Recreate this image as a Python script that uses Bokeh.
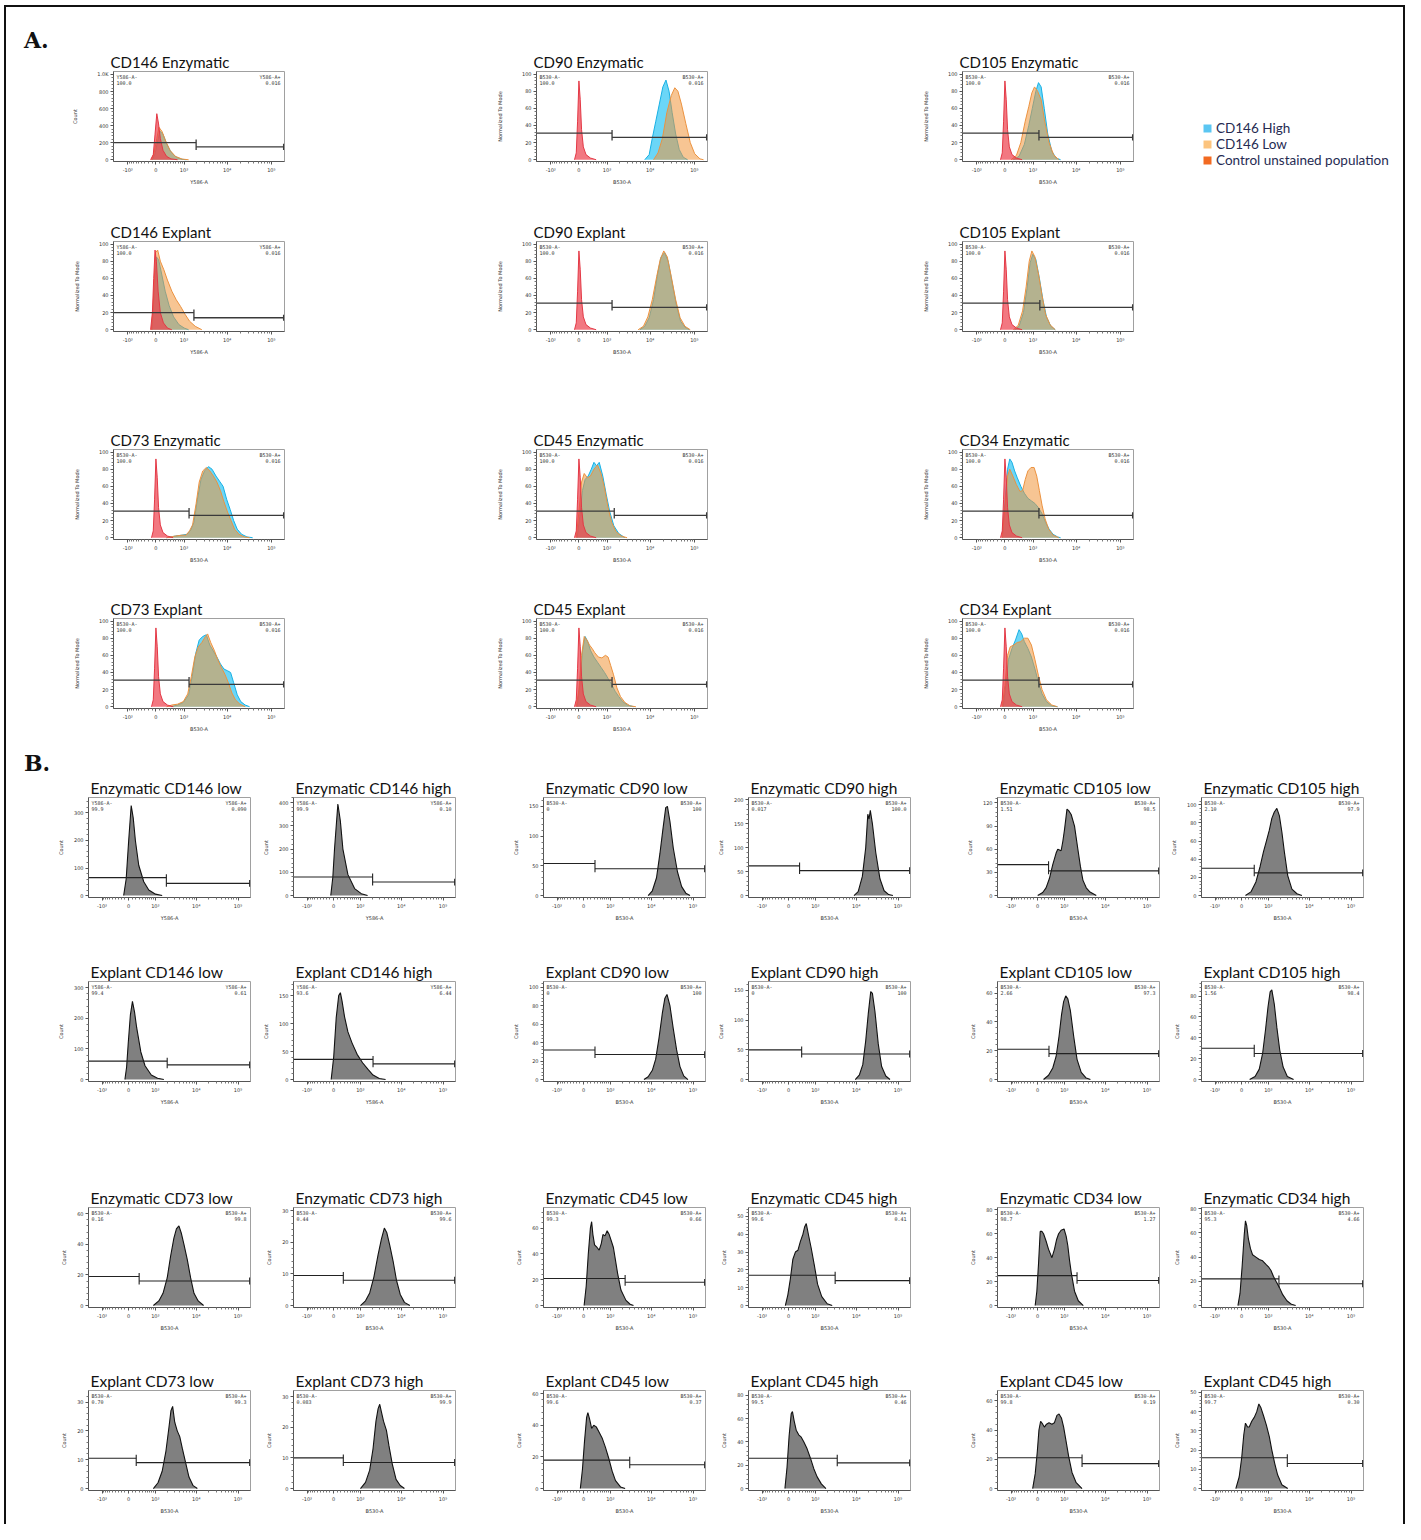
import math
from bokeh.plotting import figure
from bokeh.models import FixedTicker, Label, Spacer, Div, Legend, LegendItem, Range1d
from bokeh.layouts import row, column
from bokeh.embed import file_html
from bokeh.resources import INLINE

# ------------------------------------------------------------------ data
# x values are biexponential display units (0 -> 2.36, 10^3 -> 3, 10^4 -> 4, 10^5 -> 5)

# ---- panel A : overlays (High = cyan, Low = orange, Control = red)
A_CD146_ENZ_CTRL = [(2.24,0),(2.30,60),(2.34,300),(2.38,540),(2.42,420),(2.46,250),(2.52,110),(2.60,40),(2.70,10),(2.85,0)]
A_CD146_ENZ_LOW = [(2.26,0),(2.32,80),(2.38,250),(2.43,380),(2.50,330),(2.58,220),(2.68,110),(2.80,40),(2.95,8),(3.10,0)]
A_CD146_ENZ_HIGH = [(2.28,0),(2.34,70),(2.40,220),(2.45,335),(2.52,300),(2.60,190),(2.70,90),(2.82,30),(2.95,5),(3.05,0)]

A_CTRL_B530 = [(2.26,0),(2.30,8),(2.33,45),(2.36,92),(2.39,70),(2.42,35),(2.46,15),(2.52,6),(2.62,2),(2.75,0)]
A_CTRL_CD146_EXP = [(2.24,0),(2.28,20),(2.31,60),(2.34,93),(2.37,80),(2.41,45),(2.46,20),(2.53,8),(2.62,2),(2.72,0)]

A_CD90_ENZ_HIGH = [(3.85,0),(3.95,6),(4.02,25),(4.10,45),(4.18,65),(4.26,85),(4.33,93),(4.40,80),(4.47,55),(4.55,30),(4.63,12),(4.72,3),(4.82,0)]
A_CD90_ENZ_LOW = [(4.05,0),(4.15,8),(4.25,25),(4.35,55),(4.45,75),(4.53,84),(4.60,80),(4.68,65),(4.78,42),(4.88,20),(4.98,7),(5.10,1),(5.18,0)]
A_CD105_ENZ_HIGH = [(2.55,0),(2.68,4),(2.80,18),(2.90,40),(2.98,60),(3.06,80),(3.12,90),(3.18,85),(3.25,60),(3.33,30),(3.42,10),(3.52,2),(3.62,0)]
A_CD105_ENZ_LOW = [(2.50,0),(2.62,5),(2.72,20),(2.82,45),(2.90,62),(2.97,78),(3.03,85),(3.10,80),(3.18,70),(3.26,45),(3.36,20),(3.46,6),(3.58,0)]
A_CD146_EXP_HIGH = [(2.27,0),(2.32,40),(2.37,85),(2.42,82),(2.49,65),(2.57,45),(2.66,28),(2.76,15),(2.88,6),(3.00,2),(3.10,0)]
A_CD146_EXP_LOW = [(2.26,0),(2.30,30),(2.35,90),(2.40,93),(2.46,80),(2.54,70),(2.62,58),(2.72,45),(2.82,35),(2.92,27),(3.02,18),(3.12,10),(3.25,4),(3.40,0)]
A_CD90_EXP_HIGH = [(3.74,0),(3.85,4),(3.95,14),(4.05,35),(4.14,65),(4.22,85),(4.30,90),(4.38,80),(4.47,55),(4.56,30),(4.66,10),(4.76,3),(4.86,0)]
A_CD90_EXP_LOW = [(3.70,0),(3.82,4),(3.92,15),(4.02,35),(4.12,62),(4.20,82),(4.28,92),(4.36,85),(4.45,62),(4.55,35),(4.65,14),(4.76,4),(4.88,0)]
A_CD105_EXP_HIGH = [(2.58,0),(2.68,4),(2.78,20),(2.86,48),(2.93,78),(2.99,88),(3.06,82),(3.14,60),(3.22,35),(3.30,15),(3.40,4),(3.50,0)]
A_CD105_EXP_LOW = [(2.55,0),(2.66,5),(2.76,22),(2.84,50),(2.91,80),(2.97,92),(3.04,85),(3.12,65),(3.20,40),(3.28,18),(3.38,6),(3.50,0)]
A_CD73_ENZ_HIGH = [(2.60,0),(2.80,2),(2.95,3),(3.06,4),(3.14,8),(3.22,18),(3.30,45),(3.38,68),(3.46,78),(3.55,83),(3.63,80),(3.72,72),(3.80,66),(3.88,60),(3.96,45),(4.04,33),(4.12,20),(4.20,10),(4.30,4),(4.42,1),(4.55,0)]
A_CD73_ENZ_LOW = [(2.60,0),(2.80,2),(2.95,3),(3.04,3),(3.12,8),(3.19,15),(3.27,40),(3.34,65),(3.42,78),(3.50,82),(3.58,78),(3.66,72),(3.74,65),(3.82,55),(3.90,42),(3.98,30),(4.06,20),(4.14,10),(4.24,4),(4.36,1),(4.48,0)]
A_CD45_ENZ_HIGH = [(2.32,0),(2.38,25),(2.44,55),(2.50,68),(2.57,72),(2.64,80),(2.70,88),(2.76,84),(2.82,88),(2.90,72),(2.98,50),(3.06,30),(3.15,14),(3.26,5),(3.40,0)]
A_CD45_ENZ_LOW = [(2.30,0),(2.36,30),(2.42,65),(2.48,75),(2.55,70),(2.62,72),(2.70,80),(2.78,85),(2.86,75),(2.94,58),(3.02,35),(3.10,18),(3.20,7),(3.32,2),(3.45,0)]
A_CD34_ENZ_HIGH = [(2.30,0),(2.36,40),(2.42,80),(2.47,92),(2.52,88),(2.58,78),(2.64,70),(2.72,60),(2.80,52),(2.88,46),(2.96,43),(3.04,40),(3.12,35),(3.20,28),(3.28,18),(3.36,10),(3.45,4),(3.55,1),(3.62,0)]
A_CD34_ENZ_LOW = [(2.30,0),(2.36,35),(2.42,72),(2.47,80),(2.54,72),(2.62,62),(2.70,54),(2.76,55),(2.82,68),(2.88,78),(2.95,82),(3.02,82),(3.08,72),(3.14,55),(3.20,38),(3.27,22),(3.35,10),(3.45,3),(3.58,0)]
A_CD73_EXP_HIGH = [(2.70,0),(2.85,2),(2.98,5),(3.10,14),(3.18,35),(3.26,62),(3.34,78),(3.42,82),(3.50,84),(3.58,72),(3.66,65),(3.74,58),(3.82,50),(3.90,44),(3.98,42),(4.05,40),(4.12,28),(4.20,14),(4.28,6),(4.38,2),(4.48,0)]
A_CD73_EXP_LOW = [(2.60,0),(2.72,2),(2.85,3),(2.98,6),(3.08,15),(3.16,35),(3.24,58),(3.32,70),(3.40,75),(3.48,82),(3.53,85),(3.60,75),(3.68,66),(3.76,55),(3.84,46),(3.92,38),(4.00,28),(4.08,16),(4.16,8),(4.26,3),(4.38,0)]
A_CD45_EXP_HIGH = [(2.32,0),(2.38,25),(2.44,65),(2.50,82),(2.56,76),(2.62,66),(2.70,58),(2.78,52),(2.86,46),(2.94,40),(3.02,33),(3.10,26),(3.18,18),(3.26,12),(3.35,6),(3.46,2),(3.60,0)]
A_CD45_EXP_LOW = [(2.30,0),(2.36,20),(2.42,60),(2.48,82),(2.54,78),(2.60,72),(2.66,68),(2.72,63),(2.80,58),(2.88,57),(2.96,60),(3.02,58),(3.08,48),(3.14,38),(3.22,22),(3.30,12),(3.40,5),(3.52,1),(3.65,0)]
A_CD34_EXP_HIGH = [(2.32,0),(2.38,25),(2.44,55),(2.52,68),(2.60,78),(2.68,90),(2.74,85),(2.80,76),(2.88,68),(2.96,58),(3.04,44),(3.12,28),(3.20,15),(3.30,6),(3.42,1),(3.55,0)]
A_CD34_EXP_LOW = [(2.30,0),(2.36,25),(2.42,60),(2.48,70),(2.56,72),(2.64,75),(2.72,76),(2.80,80),(2.88,80),(2.96,72),(3.04,55),(3.12,36),(3.20,20),(3.30,8),(3.42,2),(3.55,0)]

A_TITLES = ["CD146 Enzymatic", "CD90 Enzymatic", "CD105 Enzymatic",
            "CD146 Explant", "CD90 Explant", "CD105 Explant",
            "CD73 Enzymatic", "CD45 Enzymatic", "CD34 Enzymatic",
            "CD73 Explant", "CD45 Explant", "CD34 Explant"]
A_CHANNELS = ["Y586-A", "B530-A", "B530-A", "Y586-A", "B530-A", "B530-A",
              "B530-A", "B530-A", "B530-A", "B530-A", "B530-A", "B530-A"]
A_YLABELS = ["Count"] + ["Normalized To Mode"] * 11
A_NEG = ["100.0"] * 12
A_POS = ["0.016"] * 12
A_HIGH = [A_CD146_ENZ_HIGH, A_CD90_ENZ_HIGH, A_CD105_ENZ_HIGH, A_CD146_EXP_HIGH, A_CD90_EXP_HIGH, A_CD105_EXP_HIGH,
          A_CD73_ENZ_HIGH, A_CD45_ENZ_HIGH, A_CD34_ENZ_HIGH, A_CD73_EXP_HIGH, A_CD45_EXP_HIGH, A_CD34_EXP_HIGH]
A_LOW = [A_CD146_ENZ_LOW, A_CD90_ENZ_LOW, A_CD105_ENZ_LOW, A_CD146_EXP_LOW, A_CD90_EXP_LOW, A_CD105_EXP_LOW,
         A_CD73_ENZ_LOW, A_CD45_ENZ_LOW, A_CD34_ENZ_LOW, A_CD73_EXP_LOW, A_CD45_EXP_LOW, A_CD34_EXP_LOW]
A_CTRL = [A_CD146_ENZ_CTRL, A_CTRL_B530, A_CTRL_B530, A_CTRL_CD146_EXP, A_CTRL_B530, A_CTRL_B530,
          A_CTRL_B530, A_CTRL_B530, A_CTRL_B530, A_CTRL_B530, A_CTRL_B530, A_CTRL_B530]
A_GATE_X = [3.27, 3.11, 3.13, 3.22, 3.11, 3.15, 3.11, 3.16, 3.13, 3.11, 3.11, 3.13]
A_GATE_LEFT = [200, 31, 31, 20, 31, 31, 31, 31, 31, 31, 31, 31]
A_GATE_RIGHT = [150, 26, 26, 14, 26, 26, 26, 26, 26, 26, 26, 26]
A_COUNT_TICKS = [0, 200, 400, 600, 800, 1000]
A_NORM_TICKS = [0, 20, 40, 60, 80, 100]
LEGEND_LABELS = ["CD146 High", "CD146 Low", "Control unstained population"]
LEGEND_COLORS = ["#5bc6f2", "#fcc47e", "#f26a21"]

# ---- panel B : single histograms (counts)
B_TITLES = ["Enzymatic CD146 low", "Enzymatic CD146 high", "Enzymatic CD90 low", "Enzymatic CD90 high", "Enzymatic  CD105 low", "Enzymatic CD105 high",
            "Explant CD146 low", "Explant CD146 high", "Explant CD90 low", "Explant CD90 high", "Explant CD105 low", "Explant CD105 high",
            "Enzymatic CD73 low", "Enzymatic CD73 high", "Enzymatic CD45 low", "Enzymatic CD45 high", "Enzymatic CD34 low", "Enzymatic CD34 high",
            "Explant CD73 low", "Explant CD73 high", "Explant CD45 low", "Explant CD45 high", "Explant CD45 low", "Explant CD45 high"]
B_CHANNELS = ["Y586-A", "Y586-A", "B530-A", "B530-A", "B530-A", "B530-A",
              "Y586-A", "Y586-A", "B530-A", "B530-A", "B530-A", "B530-A"] + ["B530-A"] * 12
B_NEG = ["99.9", "99.9", "0", "0.017", "1.51", "2.10",
         "99.4", "93.6", "0", "0", "2.66", "1.56",
         "0.16", "0.44", "99.3", "99.6", "98.7", "95.3",
         "0.70", "0.083", "99.6", "99.5", "99.8", "99.7"]
B_POS = ["0.090", "0.10", "100", "100.0", "98.5", "97.9",
         "0.61", "6.44", "100", "100", "97.3", "98.4",
         "99.8", "99.6", "0.66", "0.41", "1.27", "4.66",
         "99.3", "99.9", "0.37", "0.46", "0.19", "0.30"]
B_GATE_X = [3.26, 3.29, 2.63, 2.62, 2.62, 2.66,
            3.28, 3.30, 2.63, 2.67, 2.63, 2.66,
            2.61, 2.59, 3.35, 3.47, 3.30, 3.25,
            2.54, 2.59, 3.46, 3.52, 3.42, 3.45]
B_GATE_LEFT = [65, 80, 54, 62, 40, 30, 60, 36, 32, 50, 21, 30,
               19, 9.5, 21, 17, 25, 22, 10.5, 10, 18, 26, 21, 16]
B_GATE_RIGHT = [44, 58, 45, 52, 32, 25, 48, 28, 27, 43, 18, 25,
                16, 8, 18, 14, 21, 18, 9, 8.5, 15, 22, 17, 13]
B_YTICKS = [[0, 100, 200, 300], [0, 100, 200, 300, 400], [0, 50, 100, 150], [0, 50, 100, 150, 200], [0, 30, 60, 90, 120], [0, 20, 40, 60, 80, 100],
            [0, 100, 200, 300], [0, 50, 100, 150], [0, 20, 40, 60, 80, 100], [0, 50, 100, 150], [0, 20, 40, 60], [0, 20, 40, 60, 80],
            [0, 20, 40, 60], [0, 10, 20, 30], [0, 20, 40, 60], [0, 10, 20, 30, 40, 50], [0, 20, 40, 60, 80], [0, 20, 40, 60, 80],
            [0, 10, 20, 30], [0, 10, 20, 30], [0, 20, 40, 60], [0, 20, 40, 60, 80], [0, 20, 40, 60], [0, 10, 20, 30, 40, 50]]
B_YMAX = [356, 422, 165, 205, 127, 108, 320, 175, 106, 165, 68, 94,
          64, 31, 76, 55, 82, 81, 34, 32, 62, 84, 67, 51]

B_ENZ_CD146_LOW = [(2.24,0),(2.30,60),(2.36,200),(2.42,327),(2.47,280),(2.52,200),(2.60,110),(2.72,50),(2.84,20),(3.00,5),(3.16,0)]
B_ENZ_CD146_HIGH = [(2.29,0),(2.34,80),(2.38,200),(2.46,394),(2.52,320),(2.58,200),(2.70,90),(2.86,30),(3.02,8),(3.17,0)]
B_ENZ_CD90_LOW = [(3.90,0),(4.00,8),(4.10,30),(4.18,70),(4.25,110),(4.32,148),(4.36,150),(4.42,125),(4.50,80),(4.60,40),(4.70,15),(4.80,4),(4.90,0)]
B_ENZ_CD90_HIGH = [(3.92,0),(4.02,8),(4.12,40),(4.20,100),(4.25,170),(4.28,160),(4.31,178),(4.36,150),(4.44,90),(4.54,35),(4.64,10),(4.75,2),(4.85,0)]
B_ENZ_CD105_LOW = [(2.36,0),(2.48,4),(2.56,10),(2.64,22),(2.72,40),(2.80,55),(2.84,60),(2.92,58),(2.96,70),(3.00,85),(3.06,112),(3.10,110),(3.16,105),(3.24,90),(3.32,60),(3.38,38),(3.44,20),(3.52,10),(3.60,5),(3.76,0)]
B_ENZ_CD105_HIGH = [(2.45,0),(2.58,4),(2.70,15),(2.80,32),(2.88,48),(2.95,60),(3.02,72),(3.08,85),(3.14,92),(3.20,96),(3.26,88),(3.32,70),(3.38,48),(3.46,22),(3.56,7),(3.68,2),(3.80,0)]
B_EXP_CD146_LOW = [(2.27,0),(2.31,40),(2.35,120),(2.40,210),(2.45,255),(2.50,220),(2.55,170),(2.65,90),(2.75,45),(2.90,15),(3.05,4),(3.20,0)]
B_EXP_CD146_HIGH = [(2.30,0),(2.36,40),(2.42,110),(2.48,150),(2.52,155),(2.56,140),(2.62,112),(2.70,85),(2.80,65),(2.92,45),(3.05,30),(3.18,18),(3.30,8),(3.45,2),(3.60,0)]
B_EXP_CD90_LOW = [(3.80,0),(3.90,3),(4.00,10),(4.08,22),(4.16,45),(4.24,72),(4.30,88),(4.35,92),(4.42,80),(4.50,55),(4.58,32),(4.66,14),(4.75,4),(4.85,0)]
B_EXP_CD90_HIGH = [(3.95,0),(4.05,8),(4.13,25),(4.20,65),(4.26,110),(4.32,148),(4.36,145),(4.42,115),(4.50,60),(4.58,22),(4.68,6),(4.78,0)]
B_EXP_CD105_LOW = [(2.50,0),(2.62,3),(2.72,8),(2.80,16),(2.87,30),(2.93,45),(2.98,54),(3.03,58),(3.08,56),(3.14,48),(3.22,30),(3.30,14),(3.40,5),(3.52,1),(3.62,0)]
B_EXP_CD105_HIGH = [(2.55,0),(2.68,3),(2.78,10),(2.86,25),(2.93,48),(2.99,70),(3.04,84),(3.08,86),(3.14,72),(3.20,50),(3.27,28),(3.35,12),(3.45,3),(3.60,0)]
B_ENZ_CD73_LOW = [(2.95,0),(3.08,3),(3.18,8),(3.28,18),(3.36,32),(3.44,44),(3.50,50),(3.56,52),(3.62,47),(3.68,40),(3.76,30),(3.84,18),(3.92,8),(4.02,3),(4.15,0)]
B_ENZ_CD73_HIGH = [(3.00,0),(3.12,1.5),(3.22,4),(3.32,9),(3.42,16),(3.50,21),(3.57,24.5),(3.63,23),(3.70,19),(3.78,14),(3.86,8),(3.95,3.5),(4.05,1),(4.18,0)]
B_ENZ_CD45_LOW = [(2.37,0),(2.42,15),(2.47,40),(2.52,60),(2.55,65),(2.58,55),(2.62,47),(2.68,45),(2.73,43),(2.78,48),(2.82,55),(2.87,54),(2.92,58),(2.97,55),(3.02,50),(3.07,45),(3.12,35),(3.17,25),(3.25,12),(3.37,4),(3.47,1),(3.55,0)]
B_ENZ_CD45_HIGH = [(2.28,0),(2.34,6),(2.40,15),(2.46,26),(2.52,30),(2.58,31),(2.64,36),(2.70,40),(2.74,44),(2.78,46),(2.83,40),(2.90,32),(2.97,23),(3.05,12),(3.15,5),(3.28,1),(3.40,0)]
B_ENZ_CD34_LOW = [(2.30,0),(2.34,12),(2.38,35),(2.42,62),(2.46,62),(2.50,60),(2.56,54),(2.62,47),(2.70,40),(2.76,47),(2.81,55),(2.86,60),(2.92,63),(2.99,64),(3.04,58),(3.08,50),(3.12,38),(3.16,28),(3.24,12),(3.33,4),(3.45,0)]
B_ENZ_CD34_HIGH = [(2.27,0),(2.32,10),(2.37,32),(2.42,58),(2.45,70),(2.48,66),(2.52,55),(2.57,47),(2.62,42),(2.70,40),(2.78,38),(2.86,37),(2.94,34),(3.00,32),(3.06,29),(3.12,24),(3.18,20),(3.26,15),(3.34,9),(3.44,4),(3.55,1),(3.65,0)]
B_EXP_CD73_LOW = [(2.95,0),(3.06,2),(3.16,6),(3.25,13),(3.32,21),(3.37,27),(3.41,28.5),(3.46,23),(3.52,20),(3.58,18),(3.64,14),(3.72,9),(3.80,4),(3.90,1),(4.00,0)]
B_EXP_CD73_HIGH = [(3.00,0),(3.12,2),(3.22,6),(3.30,13),(3.37,22),(3.42,26),(3.46,27.5),(3.50,25),(3.55,22),(3.62,19),(3.68,14),(3.76,8),(3.85,3),(3.95,1),(4.05,0)]
B_EXP_CD45_LOW = [(2.28,0),(2.33,12),(2.38,30),(2.43,45),(2.46,48),(2.50,44),(2.55,38),(2.60,40),(2.66,39),(2.72,36),(2.80,32),(2.88,26),(2.96,19),(3.04,11),(3.12,5),(3.24,1),(3.35,0)]
B_EXP_CD45_HIGH = [(2.27,0),(2.32,18),(2.37,45),(2.42,64),(2.45,66),(2.49,58),(2.54,50),(2.60,46),(2.66,44),(2.72,40),(2.80,34),(2.88,26),(2.96,17),(3.04,10),(3.14,4),(3.25,0)]
B_EXP_CD45_LOW_2 = [(2.24,0),(2.30,10),(2.35,25),(2.39,40),(2.43,46),(2.48,44),(2.52,42),(2.57,44),(2.63,45),(2.70,44),(2.76,45),(2.82,50),(2.87,51),(2.93,48),(2.98,42),(3.04,32),(3.10,22),(3.18,11),(3.28,4),(3.42,0)]
B_EXP_CD45_HIGH_2 = [(2.22,0),(2.30,6),(2.36,16),(2.41,28),(2.45,34),(2.50,32),(2.54,32),(2.60,35),(2.66,37),(2.72,40),(2.77,44),(2.82,42),(2.88,38),(2.95,33),(3.02,27),(3.08,20),(3.15,13),(3.22,7),(3.32,2),(3.46,0)]

B_CURVES = [B_ENZ_CD146_LOW, B_ENZ_CD146_HIGH, B_ENZ_CD90_LOW, B_ENZ_CD90_HIGH, B_ENZ_CD105_LOW, B_ENZ_CD105_HIGH,
            B_EXP_CD146_LOW, B_EXP_CD146_HIGH, B_EXP_CD90_LOW, B_EXP_CD90_HIGH, B_EXP_CD105_LOW, B_EXP_CD105_HIGH,
            B_ENZ_CD73_LOW, B_ENZ_CD73_HIGH, B_ENZ_CD45_LOW, B_ENZ_CD45_HIGH, B_ENZ_CD34_LOW, B_ENZ_CD34_HIGH,
            B_EXP_CD73_LOW, B_EXP_CD73_HIGH, B_EXP_CD45_LOW, B_EXP_CD45_HIGH, B_EXP_CD45_LOW_2, B_EXP_CD45_HIGH_2]

# ------------------------------------------------------------------ axis helpers
LN10 = math.log(10)


def disp(v):
    return round(2.36 + math.asinh(v / 488.0) / LN10, 4)


X_LO, X_HI = 1.40, 5.27
XT_VALUES = [-1000, 0, 1000, 10000, 100000]
XT_LABELS = ["-10³", "0", "10³", "10⁴", "10⁵"]
X_MAJOR = [disp(v) for v in XT_VALUES]
_minor_vals = ([-k * 100 for k in range(1, 10)] + [k * 100 for k in range(1, 10)] +
               [k * 1000 for k in range(2, 10)] + [k * 10000 for k in range(2, 10)] + [200000])
X_MINOR = [disp(v) for v in _minor_vals if X_LO < disp(v) < X_HI]

HIGH_FILL, HIGH_LINE = "#2cc4f4", "#18b0e4"
LOW_FILL, LOW_LINE = "#f0953a", "#eb9240"
CTRL_FILL, CTRL_LINE = "#ec3f4c", "#e33845"
FONT_T = "Lato"
FONT_S = "DejaVu Sans"


def split(pts):
    return [a for a, b in pts], [b for a, b in pts]


def make_panel(title, fw, fh, L, R, T, B, ymax, yticks, ylabel, xlabel, neg, pos, title_size, title_offset, ystand, yover=None):
    p = figure(width=L + fw + R, height=T + fh + B, x_range=Range1d(X_LO, X_HI),
               y_range=Range1d(-0.02 * ymax, ymax), output_backend="svg", toolbar_location=None,
               min_border_left=L, min_border_right=R, min_border_top=T, min_border_bottom=B,
               title=title)
    p.title.text_font = FONT_T
    p.title.text_font_size = title_size
    p.title.text_font_style = "normal"
    p.title.text_color = "#111111"
    p.title.standoff = 1
    p.title.offset = title_offset
    p.xgrid.visible = False
    p.ygrid.visible = False
    p.outline_line_color = "#a0a0a0"
    xa, ya = p.xaxis[0], p.yaxis[0]
    xa.ticker = FixedTicker(ticks=X_MAJOR, minor_ticks=X_MINOR)
    xa.major_label_overrides = dict(zip(X_MAJOR, XT_LABELS))
    step = yticks[1] - yticks[0]
    yminor = [t + step * k / 5 for t in yticks for k in range(1, 5) if t + step * k / 5 < ymax]
    ya.ticker = FixedTicker(ticks=yticks, minor_ticks=yminor)
    if yover:
        ya.major_label_overrides = yover
    for ax in (xa, ya):
        ax.axis_line_color = "#555555"
        ax.major_tick_line_color = "#555555"
        ax.minor_tick_line_color = "#777777"
        ax.major_tick_out = 3
        ax.major_tick_in = 0
        ax.minor_tick_out = 2
        ax.minor_tick_in = 0
        ax.major_label_text_font = FONT_S
        ax.major_label_text_font_size = "5px"
        ax.major_label_text_color = "#333333"
        ax.major_label_standoff = 2
        ax.axis_label_text_font = FONT_S
        ax.axis_label_text_font_size = "5px"
        ax.axis_label_text_font_style = "normal"
        ax.axis_label_text_color = "#333333"
    xa.axis_label = xlabel
    xa.axis_label_standoff = 3
    ya.axis_label = ylabel
    ya.axis_label_standoff = ystand
    # statistics text
    p.add_layout(Label(x=X_LO, y=ymax, x_offset=3, y_offset=-2, text=xlabel + "-\n" + neg,
                       text_font="DejaVu Sans Mono", text_font_size="5px", text_color="#333333",
                       text_baseline="top", text_align="left", text_line_height=1.0))
    p.add_layout(Label(x=X_HI, y=ymax, x_offset=-4, y_offset=-2, text=xlabel + "+\n" + pos,
                       text_font="DejaVu Sans Mono", text_font_size="5px", text_color="#333333",
                       text_baseline="top", text_align="right", text_line_height=1.0))
    return p


def draw_gate(p, xg, yl, yr, ymax, color, width):
    dy = ymax * 0.035
    xr = X_HI - 0.02
    p.segment(x0=[X_LO, xg, xg, xr], y0=[yl, yr, yr - dy, yr - dy],
              x1=[xg, xr, xg, xr], y1=[yl, yr, yl + dy, yr + dy],
              line_color=color, line_width=width)


def draw_curve(p, pts, fill, alpha, line, lw):
    xs, ys = split(pts)
    r = p.varea(x=xs, y1=0, y2=ys, fill_color=fill, fill_alpha=alpha)
    p.line(xs, ys, line_color=line, line_width=lw)
    return r


# ------------------------------------------------------------------ layout geometry (picture px)
PAD_X, PAD_Y, BORDER = 4, 5, 2
OX, OY = PAD_X + BORDER, PAD_Y + BORDER
CONTENT_W, CONTENT_BOTTOM = 1397, 1524
A_FW, A_FH, A_L, A_R, A_T, A_B = 171, 90, 52, 8, 28, 26
A_FRAME_X = [113, 536, 962]
A_FRAME_Y = [71, 241, 449, 618]
A_T_FIRST = 51
LEGEND_X, LEGEND_TOP, LEGEND_W, LEGEND_H = 1202, 120, 198, 60
B_FW, B_FH, B_L, B_R, B_T, B_B = 162, 100, 40, 2, 26, 26
B_FRAME_X = [88, 293, 543, 748, 997, 1201]
B_FRAME_Y = [797, 981, 1207, 1390]
B_T_FIRST = 54


def label_div(txt):
    return Div(text='<span style="font-family:\'DejaVu Serif\';font-weight:bold;font-size:22px;line-height:40px;color:#111;white-space:nowrap">'
                    + txt + '</span>', width=23, height=45, margin=0)


def build_row(items):
    cur = OX
    kids = []
    for left, m, w in items:
        gap = left - cur
        if gap > 0:
            kids.append(Spacer(width=gap, height=1))
        kids.append(m)
        cur = max(cur, left) + w
    return row(kids)


rows = []  # (top, row model, height)

# ---- panel A
for ri in range(4):
    items = []
    T = A_T_FIRST if ri == 0 else A_T
    H = T + A_FH + A_B
    row_top = A_FRAME_Y[ri] - T
    if ri == 0:
        d = label_div("A.")
        items.append((24, d, d.width))
    for ci in range(3):
        k = ri * 3 + ci
        is_count = A_YLABELS[k] == "Count"
        ymax = 1035 if is_count else 103
        yt = A_COUNT_TICKS if is_count else A_NORM_TICKS
        p = make_panel(A_TITLES[k], A_FW, A_FH, A_L, A_R, T, A_B, ymax, yt, A_YLABELS[k], A_CHANNELS[k],
                       A_NEG[k], A_POS[k], "15px", -3, 16, {1000: "1.0K"} if is_count else None)
        draw_curve(p, A_HIGH[k], HIGH_FILL, 0.7, HIGH_LINE, 1)
        draw_curve(p, A_LOW[k], LOW_FILL, 0.55, LOW_LINE, 1)
        draw_curve(p, A_CTRL[k], CTRL_FILL, 0.7, CTRL_LINE, 1)
        draw_gate(p, A_GATE_X[k], A_GATE_LEFT[k], A_GATE_RIGHT[k], ymax, "#3a3a3a", 1.3)
        items.append((A_FRAME_X[ci] - A_L, p, p.width))
    if ri == 0:
        lf = figure(width=LEGEND_W, height=LEGEND_H, output_backend="svg", toolbar_location=None,
                    min_border=0, x_axis_location=None, y_axis_location=None,
                    x_range=Range1d(0, 1), y_range=Range1d(0, 1))
        lf.grid.visible = False
        lf.outline_line_color = None
        leg_items = []
        for lab, col in zip(LEGEND_LABELS, LEGEND_COLORS):
            # legend-only renderer: holds no visible data, only its swatch is drawn
            r = lf.quad(left=[math.nan], right=[math.nan], bottom=[math.nan], top=[math.nan],
                        fill_color=col, line_color=None)
            leg_items.append(LegendItem(label=lab, renderers=[r], index=0))
        leg = Legend(items=leg_items, location="top_left")
        leg.label_text_font = FONT_T
        leg.label_text_font_size = "13.5px"
        leg.label_text_color = "#262b52"
        leg.glyph_width = 10
        leg.glyph_height = 10
        leg.label_height = 15
        leg.label_standoff = 4
        leg.spacing = 0
        leg.padding = 0
        leg.margin = 0
        leg.border_line_color = None
        leg.background_fill_alpha = 0
        lf.add_layout(leg)
        lcol = column(Spacer(width=LEGEND_W, height=LEGEND_TOP - row_top), lf)
        items.append((LEGEND_X, lcol, LEGEND_W))
    rows.append((row_top, build_row(items), H))

# ---- panel B
for ri in range(4):
    items = []
    T = B_T_FIRST if ri == 0 else B_T
    if ri == 0:
        d = label_div("B.")
        items.append((24, d, d.width))
    for ci in range(6):
        k = ri * 6 + ci
        p = make_panel(B_TITLES[k], B_FW, B_FH, B_L, B_R, T, B_B, B_YMAX[k], B_YTICKS[k], "Count", B_CHANNELS[k],
                       B_NEG[k], B_POS[k], "15.5px", 2, 7)
        draw_curve(p, B_CURVES[k], "#808080", 1.0, "#111111", 1.1)
        draw_gate(p, B_GATE_X[k], B_GATE_LEFT[k], B_GATE_RIGHT[k], B_YMAX[k], "#222222", 1.1)
        items.append((B_FRAME_X[ci] - B_L, p, p.width))
    rows.append((B_FRAME_Y[ri] - T, build_row(items), T + B_FH + B_B))

kids = []
cur_y = OY
for top, rm, h in rows:
    gap = top - cur_y
    if gap > 0:
        kids.append(Spacer(width=1, height=gap))
    kids.append(rm)
    cur_y = top + h
kids.append(Spacer(width=CONTENT_W, height=max(1, CONTENT_BOTTOM - cur_y)))

page = column(kids, styles={"border-top": "2px solid #111", "border-left": "2px solid #111",
                            "border-right": "2px solid #111", "background-color": "white"})
outer = column(Spacer(width=1, height=PAD_Y), row(Spacer(width=PAD_X, height=1), page))

open("out.html", "w").write(file_html(outer, INLINE))
